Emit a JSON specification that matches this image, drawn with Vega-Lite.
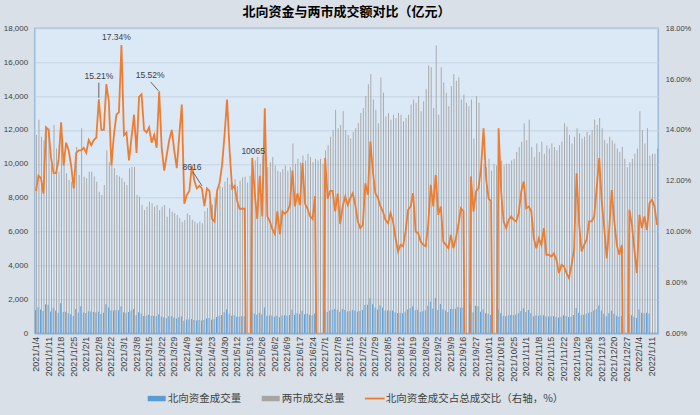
{
"$schema": "https://vega.github.io/schema/vega-lite/v6.json",
"width": 623.6, "height": 305,
"autosize": {"type": "none"},
"padding": {"left": 34.7, "top": 28.3, "right": 41.7, "bottom": 81.7},
"background": "#d9e0e8",
"title": {"text": "北向资金与两市成交额对比（亿元）", "font": "Noto Sans CJK SC", "fontSize": 13, "fontWeight": "bold", "color": "#000000", "anchor": "middle", "offset": 5},
"config": {"view": {"fill": "#dbe8f5", "stroke": "#9dbbdb", "strokeWidth": 1.5}, "axis": {"ticks": false, "labelColor": "#404040", "labelFont": "Liberation Sans"}},
"data": {"values": [
{"d":"2021/1/4","t":11700,"n":1360,"p":11.6},
{"d":"2021/1/5","t":12600,"n":1540,"p":12.2},
{"d":"2021/1/6","t":11600,"n":1400,"p":12.1},
{"d":"2021/1/7","t":11400,"n":1310,"p":11.5},
{"d":"2021/1/8","t":12200,"n":1720,"p":14.1},
{"d":"2021/1/11","t":12100,"n":1690,"p":14.0},
{"d":"2021/1/12","t":9930,"n":1280,"p":12.9},
{"d":"2021/1/13","t":12300,"n":1510,"p":12.3},
{"d":"2021/1/14","t":10900,"n":1340,"p":12.3},
{"d":"2021/1/15","t":9540,"n":1220,"p":12.8},
{"d":"2021/1/18","t":12400,"n":1770,"p":14.3},
{"d":"2021/1/19","t":9930,"n":1250,"p":12.6},
{"d":"2021/1/20","t":9440,"n":1270,"p":13.5},
{"d":"2021/1/21","t":9050,"n":1190,"p":13.2},
{"d":"2021/1/22","t":8950,"n":1130,"p":12.6},
{"d":"2021/1/25","t":8750,"n":1020,"p":11.7},
{"d":"2021/1/26","t":11000,"n":1440,"p":13.1},
{"d":"2021/1/27","t":9340,"n":1230,"p":13.2},
{"d":"2021/1/28","t":12100,"n":1600,"p":13.2},
{"d":"2021/1/29","t":9240,"n":1230,"p":13.3},
{"d":"2021/2/1","t":9150,"n":1200,"p":13.1},
{"d":"2021/2/2","t":9540,"n":1300,"p":13.6},
{"d":"2021/2/3","t":9540,"n":1280,"p":13.4},
{"d":"2021/2/4","t":9250,"n":1260,"p":13.6},
{"d":"2021/2/5","t":8950,"n":1230,"p":13.7},
{"d":"2021/2/8","t":8360,"n":1270,"p":15.21,"lab":"15.21%"},
{"d":"2021/2/9","t":8160,"n":1140,"p":14.0},
{"d":"2021/2/10","t":8750,"n":1220,"p":14.0},
{"d":"2021/2/18","t":10800,"n":1710,"p":15.8},
{"d":"2021/2/19","t":10100,"n":1530,"p":15.1},
{"d":"2021/2/22","t":10600,"n":1340,"p":12.6},
{"d":"2021/2/23","t":9740,"n":1340,"p":13.8},
{"d":"2021/2/24","t":9340,"n":1360,"p":14.6},
{"d":"2021/2/25","t":9250,"n":1360,"p":14.7},
{"d":"2021/2/26","t":9150,"n":1590,"p":17.34,"lab":"17.34%"},
{"d":"2021/3/1","t":8950,"n":1240,"p":13.8},
{"d":"2021/3/2","t":8750,"n":1220,"p":13.9},
{"d":"2021/3/3","t":9740,"n":1250,"p":12.8},
{"d":"2021/3/4","t":9830,"n":1350,"p":13.7},
{"d":"2021/3/5","t":9830,"n":1440,"p":14.6},
{"d":"2021/3/8","t":8160,"n":1070,"p":13.1},
{"d":"2021/3/9","t":8070,"n":1240,"p":15.3},
{"d":"2021/3/10","t":7570,"n":1170,"p":15.4},
{"d":"2021/3/11","t":7280,"n":1020,"p":14.0},
{"d":"2021/3/12","t":7470,"n":1040,"p":13.9},
{"d":"2021/3/15","t":7770,"n":1100,"p":14.1},
{"d":"2021/3/16","t":7670,"n":1040,"p":13.5},
{"d":"2021/3/17","t":7470,"n":1030,"p":13.8},
{"d":"2021/3/18","t":7570,"n":1010,"p":13.3},
{"d":"2021/3/19","t":7280,"n":1130,"p":15.52,"lab":"15.52%"},
{"d":"2021/3/22","t":7470,"n":990,"p":13.3},
{"d":"2021/3/23","t":7570,"n":940,"p":12.4},
{"d":"2021/3/24","t":6880,"n":890,"p":13.0},
{"d":"2021/3/25","t":7380,"n":1000,"p":13.6},
{"d":"2021/3/26","t":7180,"n":1010,"p":14.0},
{"d":"2021/3/29","t":7080,"n":930,"p":13.2},
{"d":"2021/3/30","t":6980,"n":870,"p":12.5},
{"d":"2021/3/31","t":6790,"n":940,"p":13.8},
{"d":"2021/4/1","t":6590,"n":990,"p":15.0},
{"d":"2021/4/8","t":6690,"n":740,"p":11.1},
{"d":"2021/4/9","t":7080,"n":810,"p":11.45},
{"d":"2021/4/12","t":6980,"n":810,"p":11.6},
{"d":"2021/4/13","t":6700,"n":840,"p":12.6},
{"d":"2021/4/14","t":6600,"n":790,"p":12.0},
{"d":"2021/4/15","t":6500,"n":760,"p":11.7},
{"d":"2021/4/16","t":6600,"n":780,"p":11.8},
{"d":"2021/4/19","t":6500,"n":760,"p":11.7,"lab":"8616"},
{"d":"2021/4/20","t":7200,"n":790,"p":11.0},
{"d":"2021/4/21","t":7400,"n":870,"p":11.7},
{"d":"2021/4/22","t":7800,"n":900,"p":11.6},
{"d":"2021/4/23","t":7600,"n":800,"p":10.5},
{"d":"2021/4/26","t":8000,"n":830,"p":10.4},
{"d":"2021/4/27","t":8300,"n":960,"p":11.6},
{"d":"2021/4/28","t":8700,"n":1040,"p":11.9},
{"d":"2021/4/29","t":8600,"n":1080,"p":12.6},
{"d":"2021/4/30","t":8950,"n":1240,"p":13.8},
{"d":"2021/5/6","t":9200,"n":1400,"p":15.2},
{"d":"2021/5/7","t":8800,"n":1160,"p":13.2},
{"d":"2021/5/10","t":8900,"n":1040,"p":11.7},
{"d":"2021/5/11","t":9100,"n":1070,"p":11.8},
{"d":"2021/5/12","t":8700,"n":970,"p":11.2},
{"d":"2021/5/13","t":9000,"n":980,"p":10.9},
{"d":"2021/5/14","t":9200,"n":1000,"p":10.9},
{"d":"2021/5/17","t":9250,"n":1010,"p":10.9},
{"d":"2021/5/18","t":8900,"n":null,"p":0},
{"d":"2021/5/19","t":9300,"n":null,"p":0},
{"d":"2021/5/20","t":9900,"n":1280,"p":12.9,"lab":"10065"},
{"d":"2021/5/21","t":10200,"n":1170,"p":11.5},
{"d":"2021/5/24","t":10400,"n":1090,"p":10.5},
{"d":"2021/5/25","t":10000,"n":1220,"p":12.2},
{"d":"2021/5/26","t":10500,"n":1110,"p":10.6},
{"d":"2021/5/27","t":10300,"n":1530,"p":14.85},
{"d":"2021/5/28","t":9800,"n":1040,"p":10.6},
{"d":"2021/5/31","t":10100,"n":1050,"p":10.4},
{"d":"2021/6/1","t":10400,"n":1050,"p":10.1},
{"d":"2021/6/2","t":9900,"n":980,"p":9.9},
{"d":"2021/6/3","t":9600,"n":1040,"p":10.8},
{"d":"2021/6/4","t":9500,"n":940,"p":9.9},
{"d":"2021/6/7","t":9700,"n":1050,"p":10.8},
{"d":"2021/6/8","t":9900,"n":1060,"p":10.7},
{"d":"2021/6/9","t":9600,"n":1040,"p":10.8},
{"d":"2021/6/10","t":9800,"n":1080,"p":11.05},
{"d":"2021/6/11","t":11200,"n":1390,"p":12.4},
{"d":"2021/6/15","t":10000,"n":1100,"p":11.0},
{"d":"2021/6/16","t":10300,"n":1180,"p":11.5},
{"d":"2021/6/17","t":10100,"n":1120,"p":11.05},
{"d":"2021/6/18","t":10500,"n":1330,"p":12.7},
{"d":"2021/6/21","t":10200,"n":1130,"p":11.1},
{"d":"2021/6/22","t":10600,"n":1160,"p":10.9},
{"d":"2021/6/23","t":10400,"n":1100,"p":10.6},
{"d":"2021/6/24","t":10100,"n":1060,"p":10.5},
{"d":"2021/6/25","t":10300,"n":1170,"p":11.4},
{"d":"2021/6/28","t":10200,"n":null,"p":0},
{"d":"2021/6/29","t":10300,"n":null,"p":0},
{"d":"2021/6/30","t":10000,"n":null,"p":0},
{"d":"2021/7/1","t":10800,"n":1390,"p":12.9},
{"d":"2021/7/2","t":11100,"n":1250,"p":11.3},
{"d":"2021/7/5","t":11600,"n":1350,"p":11.6},
{"d":"2021/7/6","t":12000,"n":1390,"p":11.6},
{"d":"2021/7/7","t":13200,"n":1430,"p":10.8},
{"d":"2021/7/8","t":12100,"n":1390,"p":11.5},
{"d":"2021/7/9","t":12300,"n":1270,"p":10.3},
{"d":"2021/7/12","t":13100,"n":1440,"p":11.0},
{"d":"2021/7/13","t":12000,"n":1370,"p":11.38},
{"d":"2021/7/14","t":11700,"n":1290,"p":11.05},
{"d":"2021/7/15","t":11500,"n":1300,"p":11.32},
{"d":"2021/7/16","t":11900,"n":1370,"p":11.51},
{"d":"2021/7/19","t":12100,"n":1340,"p":11.05},
{"d":"2021/7/20","t":12400,"n":1290,"p":10.4},
{"d":"2021/7/21","t":13000,"n":1320,"p":10.14},
{"d":"2021/7/22","t":13300,"n":1370,"p":10.27},
{"d":"2021/7/23","t":14000,"n":1670,"p":11.9},
{"d":"2021/7/26","t":14700,"n":1680,"p":11.45},
{"d":"2021/7/27","t":15300,"n":2070,"p":13.54},
{"d":"2021/7/28","t":13800,"n":1710,"p":12.36},
{"d":"2021/7/29","t":13200,"n":1520,"p":11.51},
{"d":"2021/7/30","t":12400,"n":1400,"p":11.32},
{"d":"2021/8/2","t":15100,"n":1660,"p":10.99},
{"d":"2021/8/3","t":14200,"n":1530,"p":10.79},
{"d":"2021/8/4","t":12800,"n":1340,"p":10.46},
{"d":"2021/8/5","t":13000,"n":1340,"p":10.33},
{"d":"2021/8/6","t":12600,"n":1350,"p":10.73},
{"d":"2021/8/9","t":12900,"n":1340,"p":10.4},
{"d":"2021/8/10","t":12700,"n":1240,"p":9.74},
{"d":"2021/8/11","t":13000,"n":1200,"p":9.22},
{"d":"2021/8/12","t":12900,"n":1220,"p":9.48},
{"d":"2021/8/13","t":12500,"n":1180,"p":9.42},
{"d":"2021/8/16","t":12700,"n":1270,"p":10.01},
{"d":"2021/8/17","t":12900,"n":1400,"p":10.86},
{"d":"2021/8/18","t":13500,"n":1480,"p":10.99},
{"d":"2021/8/19","t":13800,"n":1590,"p":11.51},
{"d":"2021/8/20","t":13600,"n":1360,"p":10.0},
{"d":"2021/8/23","t":14000,"n":1390,"p":9.94},
{"d":"2021/8/24","t":13100,"n":1260,"p":9.61},
{"d":"2021/8/25","t":13700,"n":1300,"p":9.48},
{"d":"2021/8/26","t":14400,"n":1360,"p":9.42},
{"d":"2021/8/27","t":15800,"n":1620,"p":10.27},
{"d":"2021/8/30","t":15700,"n":1860,"p":11.84},
{"d":"2021/8/31","t":13300,"n":1460,"p":10.99},
{"d":"2021/9/1","t":17000,"n":2080,"p":12.23},
{"d":"2021/9/2","t":12900,"n":1380,"p":10.66},
{"d":"2021/9/3","t":15700,"n":1730,"p":10.99},
{"d":"2021/9/6","t":14800,"n":1420,"p":9.61},
{"d":"2021/9/7","t":14200,"n":1350,"p":9.48},
{"d":"2021/9/8","t":13400,"n":1250,"p":9.35},
{"d":"2021/9/9","t":14600,"n":1440,"p":9.87},
{"d":"2021/9/10","t":15300,"n":1430,"p":9.35},
{"d":"2021/9/13","t":14900,"n":1450,"p":9.74},
{"d":"2021/9/14","t":15100,"n":1550,"p":10.27},
{"d":"2021/9/15","t":13800,"n":1510,"p":10.92},
{"d":"2021/9/16","t":14100,"n":1520,"p":10.8},
{"d":"2021/9/17","t":13600,"n":null,"p":0},
{"d":"2021/9/22","t":13400,"n":null,"p":0},
{"d":"2021/9/23","t":13800,"n":1680,"p":12.17},
{"d":"2021/9/24","t":11500,"n":1240,"p":10.79},
{"d":"2021/9/27","t":14000,"n":1620,"p":11.58},
{"d":"2021/9/28","t":13600,"n":1590,"p":11.71},
{"d":"2021/9/29","t":10200,"n":1270,"p":12.5},
{"d":"2021/9/30","t":10000,"n":1410,"p":14.07},
{"d":"2021/10/8","t":9800,"n":1190,"p":12.1},
{"d":"2021/10/11","t":10300,"n":1160,"p":11.3},
{"d":"2021/10/12","t":9600,"n":1080,"p":11.2},
{"d":"2021/10/13","t":10000,"n":null,"p":0},
{"d":"2021/10/14","t":9900,"n":null,"p":0},
{"d":"2021/10/15","t":10100,"n":1420,"p":14.07},
{"d":"2021/10/18","t":10200,"n":1180,"p":11.58},
{"d":"2021/10/19","t":9900,"n":1030,"p":10.4},
{"d":"2021/10/20","t":10000,"n":1010,"p":10.14},
{"d":"2021/10/21","t":10000,"n":1050,"p":10.46},
{"d":"2021/10/22","t":10200,"n":1080,"p":10.6},
{"d":"2021/10/25","t":10300,"n":1080,"p":10.46},
{"d":"2021/10/26","t":10700,"n":1110,"p":10.4},
{"d":"2021/10/27","t":11000,"n":1180,"p":10.73},
{"d":"2021/10/28","t":11300,"n":1310,"p":11.58},
{"d":"2021/10/29","t":12400,"n":1480,"p":11.97},
{"d":"2021/11/1","t":11400,"n":1250,"p":10.92},
{"d":"2021/11/2","t":12600,"n":1380,"p":10.99},
{"d":"2021/11/3","t":11000,"n":1190,"p":10.79},
{"d":"2021/11/4","t":10400,"n":1010,"p":9.74},
{"d":"2021/11/5","t":11200,"n":1050,"p":9.35},
{"d":"2021/11/8","t":10700,"n":1040,"p":9.74},
{"d":"2021/11/9","t":11300,"n":1070,"p":9.48},
{"d":"2021/11/10","t":10600,"n":1070,"p":10.14},
{"d":"2021/11/11","t":11100,"n":1010,"p":9.09},
{"d":"2021/11/12","t":10900,"n":990,"p":9.09},
{"d":"2021/11/15","t":11200,"n":1010,"p":9.02},
{"d":"2021/11/16","t":11000,"n":1010,"p":9.15},
{"d":"2021/11/17","t":10800,"n":960,"p":8.89},
{"d":"2021/11/18","t":11100,"n":930,"p":8.37},
{"d":"2021/11/19","t":11300,"n":980,"p":8.69},
{"d":"2021/11/22","t":12400,"n":1070,"p":8.63},
{"d":"2021/11/23","t":12200,"n":1020,"p":8.37},
{"d":"2021/11/24","t":11700,"n":960,"p":8.17},
{"d":"2021/11/25","t":11200,"n":970,"p":8.69},
{"d":"2021/11/26","t":11600,"n":1080,"p":9.3},
{"d":"2021/11/29","t":12100,"n":1490,"p":12.3},
{"d":"2021/11/30","t":11800,"n":1220,"p":10.3},
{"d":"2021/12/1","t":11500,"n":1060,"p":9.22},
{"d":"2021/12/2","t":11600,"n":1100,"p":9.48},
{"d":"2021/12/3","t":11900,"n":1150,"p":9.68},
{"d":"2021/12/6","t":11700,"n":1220,"p":10.4},
{"d":"2021/12/7","t":12000,"n":1250,"p":10.4},
{"d":"2021/12/8","t":12600,"n":1340,"p":10.6},
{"d":"2021/12/9","t":12300,"n":1440,"p":11.71},
{"d":"2021/12/10","t":12700,"n":1640,"p":12.89},
{"d":"2021/12/13","t":12100,"n":1350,"p":11.18},
{"d":"2021/12/14","t":11400,"n":1160,"p":10.14},
{"d":"2021/12/15","t":11200,"n":1000,"p":8.96},
{"d":"2021/12/16","t":11600,"n":1180,"p":10.14},
{"d":"2021/12/17","t":11400,"n":1330,"p":11.64},
{"d":"2021/12/20","t":11200,"n":1160,"p":10.4},
{"d":"2021/12/21","t":10900,"n":1030,"p":9.48},
{"d":"2021/12/22","t":10700,"n":970,"p":9.09},
{"d":"2021/12/23","t":11000,"n":1040,"p":9.48},
{"d":"2021/12/24","t":10300,"n":null,"p":0},
{"d":"2021/12/27","t":9800,"n":null,"p":0},
{"d":"2021/12/28","t":10100,"n":1100,"p":10.86},
{"d":"2021/12/29","t":10300,"n":1060,"p":10.27},
{"d":"2021/12/30","t":10600,"n":980,"p":9.28},
{"d":"2021/12/31","t":10900,"n":910,"p":8.37},
{"d":"2022/1/4","t":13100,"n":1400,"p":10.66},
{"d":"2022/1/5","t":12000,"n":1220,"p":10.14},
{"d":"2022/1/6","t":11200,"n":1190,"p":10.6},
{"d":"2022/1/7","t":12100,"n":1220,"p":10.07},
{"d":"2022/1/10","t":10500,"n":1170,"p":11.12},
{"d":"2022/1/11","t":10600,"n":null,"p":11.25},
{"d":"2022/1/12","t":10600,"n":null,"p":10.99},
{"d":"2022/1/13","t":10900,"n":null,"p":10.27}
]},
"encoding": {
  "x": {"field": "d", "type": "ordinal", "sort": null,
        "scale": {"type": "band", "paddingInner": 0, "paddingOuter": 0},
        "axis": {"title": null, "labelAngle": -90, "labelFontSize": 9, "labelPadding": 3, "domainColor": "#8fb1d6", "domainWidth": 1.5, "grid": false, "labelOverlap": false,
                 "values": ["2021/1/4","2021/1/11","2021/1/18","2021/1/25","2021/2/1","2021/2/8","2021/2/22","2021/3/1","2021/3/8","2021/3/15","2021/3/22","2021/3/29","2021/4/9","2021/4/16","2021/4/23","2021/4/30","2021/5/12","2021/5/19","2021/5/26","2021/6/2","2021/6/9","2021/6/17","2021/6/24","2021/7/1","2021/7/8","2021/7/15","2021/7/22","2021/7/29","2021/8/5","2021/8/12","2021/8/19","2021/8/26","2021/9/2","2021/9/9","2021/9/16","2021/9/27","2021/10/11","2021/10/18","2021/10/25","2021/11/1","2021/11/8","2021/11/15","2021/11/22","2021/11/29","2021/12/6","2021/12/13","2021/12/20","2021/12/27","2022/1/4","2022/1/11"]}}
},
"layer": [
  {"encoding": {
     "y": {"type": "quantitative", "scale": {"domain": [0, 18000], "nice": false},
           "axis": {"title": null, "values": [0,2000,4000,6000,8000,10000,12000,14000,16000,18000], "labelExpr": "format(datum.value, ',')", "labelOverlap": false, "labelFontSize": 8, "labelPadding": 7, "domain": false, "grid": true, "gridColor": "#c6d3e0"}}
   },
   "layer": [
    {"mark": {"type": "bar", "width": {"band": 0.36}, "xOffset": 0.45},
     "encoding": {
       "y": {"field": "t", "type": "quantitative"},
       "color": {"datum": "两市成交总量",
         "scale": {"domain": ["北向资金成交量", "两市成交总量", "北向资金成交占总成交比（右轴，%）"], "range": ["#5b9bd5", "#a5a5a5", "#ed7d31"]},
         "legend": {"title": null, "orient": "none", "legendX": 113, "legendY": 361, "direction": "horizontal",
           "symbolSize": 324, "symbolType": "M-1,-0.3H1V0.3H-1Z", "labelFont": "Noto Sans CJK SC", "labelFontSize": 10.5, "labelColor": "#404040", "labelLimit": 400, "columnPadding": 20, "labelOffset": 2,
           "encode": {"symbols": {"update": {
             "shape": {"signal": "datum.value === '北向资金成交占总成交比（右轴，%）' ? 'M-1.1,-0.1H1.1V0.1H-1.1Z' : 'M-1,-0.3H1V0.3H-1Z'"},
             "fill": {"signal": "scale('color', datum.value)"},
             "stroke": {"value": "transparent"}, "strokeWidth": {"value": 0}, "opacity": {"value": 1}}}}}}
     }},
    {"mark": {"type": "bar", "width": {"band": 0.36}, "xOffset": -0.45},
     "encoding": {
       "y": {"field": "n", "type": "quantitative"},
       "color": {"datum": "北向资金成交量"}
     }}
  ]},
  {"encoding": {
     "y": {"type": "quantitative", "scale": {"domain": [6, 18], "nice": false},
           "axis": {"orient": "right", "title": null, "values": [6,8,10,12,14,16,18], "labelExpr": "format(datum.value, '.2f') + '%'", "labelOverlap": false, "labelFontSize": 7.5, "labelPadding": 7, "domain": false, "grid": false}}
   },
   "layer": [
    {"mark": {"type": "line", "strokeWidth": 1.8, "clip": true},
     "encoding": {
       "y": {"field": "p", "type": "quantitative"},
       "color": {"datum": "北向资金成交占总成交比（右轴，%）"}
     }},
    {"transform": [{"filter": "datum.lab === '17.34%'"}],
     "mark": {"type": "text", "dx": -5, "dy": -8, "fontSize": 8.5, "color": "#404040", "font": "Liberation Sans"},
     "encoding": {"y": {"field": "p", "type": "quantitative"}, "text": {"field": "lab"}}},
    {"transform": [{"filter": "datum.lab === '15.21%'"}],
     "mark": {"type": "text", "dx": 0, "dy": -23, "fontSize": 8.5, "color": "#404040", "font": "Liberation Sans"},
     "encoding": {"y": {"field": "p", "type": "quantitative"}, "text": {"field": "lab"}}},
    {"transform": [{"filter": "datum.lab === '15.52%'"}],
     "mark": {"type": "text", "dx": -9, "dy": -16, "fontSize": 8.5, "color": "#404040", "font": "Liberation Sans"},
     "encoding": {"y": {"field": "p", "type": "quantitative"}, "text": {"field": "lab"}}},
    {"transform": [{"filter": "datum.lab === '8616'"}],
     "mark": {"type": "text", "dx": -10, "dy": -21, "fontSize": 8.5, "color": "#404040", "font": "Liberation Sans"},
     "encoding": {"y": {"field": "p", "type": "quantitative"}, "text": {"field": "lab"}}},
    {"transform": [{"filter": "datum.lab === '10065'"}],
     "mark": {"type": "text", "dx": 1, "dy": -7, "fontSize": 8.5, "color": "#404040", "font": "Liberation Sans"},
     "encoding": {"y": {"field": "p", "type": "quantitative"}, "text": {"field": "lab"}}},
    {"transform": [{"filter": "datum.lab === '15.21%'"}],
     "mark": {"type": "rule", "color": "#404040", "strokeWidth": 0.8, "yOffset": -16.5, "y2Offset": -1.5},
     "encoding": {"y": {"field": "p", "type": "quantitative"}, "y2": {"field": "p"}}},
    {"transform": [{"filter": "datum.lab === '15.52%'"}],
     "mark": {"type": "rule", "color": "#404040", "strokeWidth": 0.8, "xOffset": -8.4, "yOffset": -9.3, "x2Offset": -0.8, "y2Offset": -0.6},
     "encoding": {"x2": {"field": "d"}, "y": {"field": "p", "type": "quantitative"}, "y2": {"field": "p"}}},
    {"transform": [{"filter": "datum.lab === '8616'"}],
     "mark": {"type": "rule", "color": "#404040", "strokeWidth": 0.8, "xOffset": -9, "yOffset": -16.6, "x2Offset": 0, "y2Offset": -2.6},
     "encoding": {"x2": {"field": "d"}, "y": {"field": "p", "type": "quantitative"}, "y2": {"field": "p"}}}
  ]}
],
"resolve": {"scale": {"y": "independent"}}
}
